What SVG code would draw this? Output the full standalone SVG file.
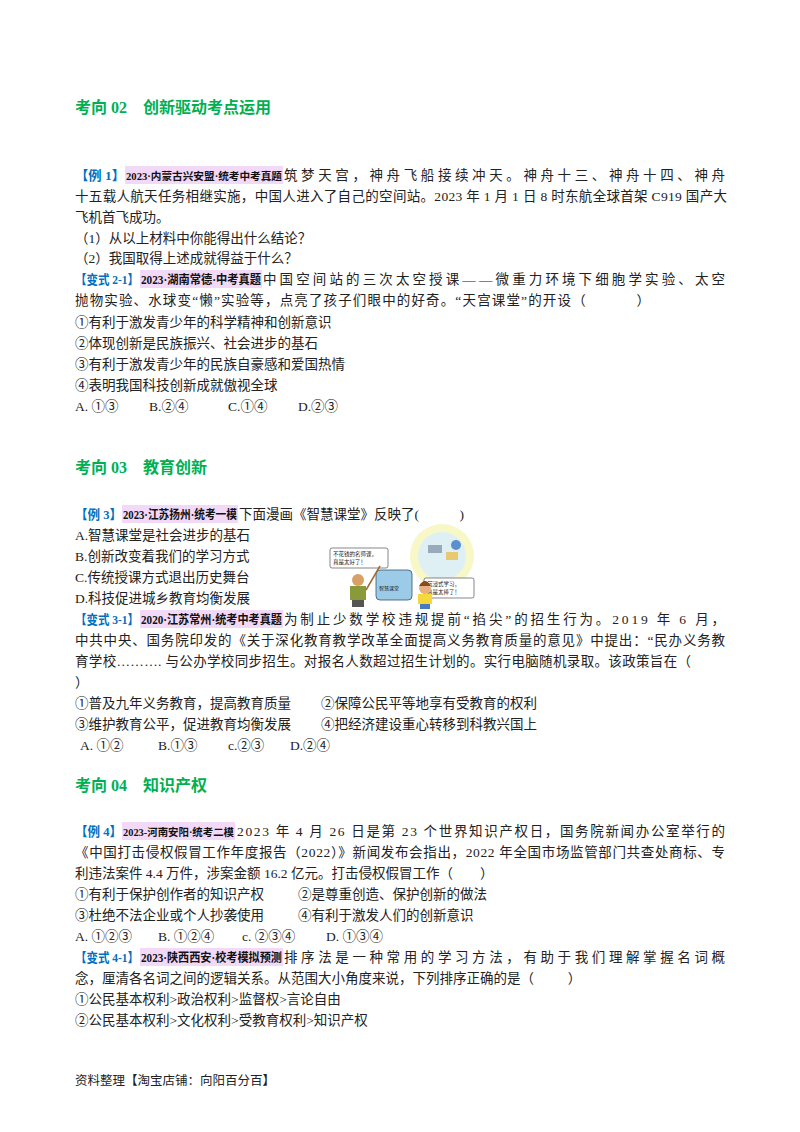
<svg xmlns="http://www.w3.org/2000/svg" width="800" height="1132" viewBox="0 0 800 1132">
<style>
text{font-family:"Liberation Serif","Noto Sans CJK SC",serif;font-size:13.5px;fill:#222;white-space:pre}
.h{font-size:16px;font-weight:bold;fill:#00b050}
.l{fill:#0070c0;font-weight:bold;font-size:13px}
.s{font-weight:bold;fill:#111;font-size:12px}
.pk{fill:#f2d9f7}
</style>
<rect width="800" height="1132" fill="#fff"/>
<g id="sec02">
<text class="h" x="75" y="113">考向 02　创新驱动考点运用</text>
<rect class="pk" x="125" y="166" width="158" height="18"/>
<text class="l" x="75" y="180" textLength="50" lengthAdjust="spacingAndGlyphs">【例 1】</text>
<text class="s" x="126" y="180" textLength="156" lengthAdjust="spacingAndGlyphs" style="font-size:10.5px">2023·内蒙古兴安盟·统考中考真题</text>
<text x="284" y="180" textLength="441" lengthAdjust="spacing">筑梦天宫，神舟飞船接续冲天。神舟十三、神舟十四、神舟</text>
<text x="75" y="201" textLength="652" lengthAdjust="spacing">十五载人航天任务相继实施，中国人进入了自己的空间站。2023 年 1 月 1 日 8 时东航全球首架 C919 国产大</text>
<text x="75" y="222">飞机首飞成功。</text>
<text x="75" y="243">（1）从以上材料中你能得出什么结论？</text>
<text x="75" y="263">（2）我国取得上述成就得益于什么？</text>
<rect class="pk" x="140" y="270" width="122" height="18"/>
<text class="l" x="75" y="284" textLength="64" lengthAdjust="spacingAndGlyphs">【变式 2-1】</text>
<text class="s" x="141" y="284" textLength="120" lengthAdjust="spacingAndGlyphs">2023·湖南常德·中考真题</text>
<text x="263" y="284" textLength="462" lengthAdjust="spacing">中国空间站的三次太空授课——微重力环境下细胞学实验、太空</text>
<text x="75" y="305" textLength="575" lengthAdjust="spacing">抛物实验、水球变“懒”实验等，点亮了孩子们眼中的好奇。“天宫课堂”的开设（           ）</text>
<text x="75" y="327">①有利于激发青少年的科学精神和创新意识</text>
<text x="75" y="348">②体现创新是民族振兴、社会进步的基石</text>
<text x="75" y="369">③有利于激发青少年的民族自豪感和爱国热情</text>
<text x="75" y="390">④表明我国科技创新成就傲视全球</text>
<text x="75" y="411">A. ①③</text><text x="149" y="411">B.②④</text><text x="228" y="411">C.①④</text><text x="298" y="411">D.②③</text>
</g>
<g id="sec03">
<text class="h" x="75" y="473">考向 03　教育创新</text>
<rect class="pk" x="122" y="505" width="116" height="18"/>
<text class="l" x="75" y="519" textLength="47" lengthAdjust="spacingAndGlyphs">【例 3】</text>
<text class="s" x="123" y="519" textLength="114" lengthAdjust="spacingAndGlyphs">2023·江苏扬州·统考一模</text>
<text x="239" y="519">下面漫画《智慧课堂》反映了(            )</text>
<text x="75" y="540">A.智慧课堂是社会进步的基石</text>
<text x="75" y="561">B.创新改变着我们的学习方式</text>
<text x="75" y="582">C.传统授课方式退出历史舞台</text>
<text x="75" y="603">D.科技促进城乡教育均衡发展</text>
<rect class="pk" x="140" y="610" width="143" height="18"/>
<text class="l" x="75" y="624" textLength="64" lengthAdjust="spacingAndGlyphs">【变式 3-1】</text>
<text class="s" x="141" y="624" textLength="141" lengthAdjust="spacingAndGlyphs">2020·江苏常州·统考中考真题</text>
<text x="284" y="624" textLength="441" lengthAdjust="spacing">为制止少数学校违规提前“掐尖”的招生行为。2019 年 6 月，</text>
<text x="75" y="645" textLength="650" lengthAdjust="spacing">中共中央、国务院印发的《关于深化教育教学改革全面提高义务教育质量的意见》中提出：“民办义务教</text>
<text x="75" y="666" textLength="616" lengthAdjust="spacing">育学校………. 与公办学校同步招生。对报名人数超过招生计划的。实行电脑随机录取。该政策旨在（</text>
<text x="75" y="687">）</text>
<text x="75" y="708">①普及九年义务教育，提高教育质量</text><text x="321" y="708">②保障公民平等地享有受教育的权利</text>
<text x="75" y="729">③维护教育公平，促进教育均衡发展</text><text x="321" y="729">④把经济建设重心转移到科教兴国上</text>
<text x="80" y="750">A. ①②</text><text x="158" y="750">B.①③</text><text x="228" y="750">c.②③</text><text x="290" y="750">D.②④</text>
</g>
<g id="cartoon">
<circle cx="442" cy="556" r="32" fill="#f7f7c8"/>
<circle cx="442" cy="556" r="24" fill="#dff0f5"/>
<rect x="428" y="545" width="14" height="8" fill="#9ab"/><rect x="446" y="552" width="12" height="8" fill="#e8c870"/><circle cx="456" cy="545" r="5" fill="#5a8fd0"/>
<rect x="330" y="548" width="58" height="20" rx="2" fill="#fff" stroke="#555" stroke-width="0.7"/>
<text x="333" y="556" style="font-size:5.5px">不花钱的名师课，</text><text x="333" y="564" style="font-size:5.5px">真是太好了！</text>
<rect x="424" y="578" width="50" height="20" rx="2" fill="#fff" stroke="#555" stroke-width="0.7"/>
<text x="427" y="586" style="font-size:5.5px">沉浸式学习，</text><text x="427" y="594" style="font-size:5.5px">真是太棒了！</text>
<rect x="376" y="570" width="36" height="30" rx="4" fill="#9ccbe8" stroke="#357" stroke-width="0.8"/>
<text x="379" y="590" style="font-size:5px">智慧课堂</text>
<circle cx="358" cy="580" r="6" fill="#d9a066"/><rect x="350" y="586" width="16" height="14" fill="#8a9a3a"/><rect x="352" y="600" width="12" height="7" fill="#555"/>
<circle cx="425" cy="588" r="6" fill="#e8b080"/><path d="M419 586 q6 -10 12 0" fill="#8a4a1a"/><rect x="418" y="594" width="14" height="10" fill="#f5d83a"/><rect x="420" y="604" width="10" height="5" fill="#4a7ac0"/>
<line x1="366" y1="590" x2="380" y2="566" stroke="#a06a30" stroke-width="1.5"/>
</g>
<g id="sec04">
<text class="h" x="75" y="791">考向 04　知识产权</text>
<rect class="pk" x="122" y="822" width="113" height="18"/>
<text class="l" x="75" y="836" textLength="47" lengthAdjust="spacingAndGlyphs">【例 4】</text>
<text class="s" x="123" y="836" textLength="111" lengthAdjust="spacingAndGlyphs" style="font-size:10.5px">2023-河南安阳·统考二模</text>
<text x="237" y="836" textLength="488" lengthAdjust="spacing">2023 年 4 月 26 日是第 23 个世界知识产权日，国务院新闻办公室举行的</text>
<text x="75" y="857" textLength="650" lengthAdjust="spacing">《中国打击侵权假冒工作年度报告（2022）》新闻发布会指出，2022 年全国市场监管部门共查处商标、专</text>
<text x="75" y="878">利违法案件 4.4 万件，涉案金额 16.2 亿元。打击侵权假冒工作（        ）</text>
<text x="75" y="899">①有利于保护创作者的知识产权</text><text x="298" y="899">②是尊重创造、保护创新的做法</text>
<text x="75" y="920">③杜绝不法企业或个人抄袭使用</text><text x="298" y="920">④有利于激发人们的创新意识</text>
<text x="75" y="941">A. ①②③</text><text x="158" y="941">B. ①②④</text><text x="242" y="941">c. ②③④</text><text x="326" y="941">D. ①③④</text>
<rect class="pk" x="140" y="948" width="143" height="18"/>
<text class="l" x="75" y="962" textLength="64" lengthAdjust="spacingAndGlyphs">【变式 4-1】</text>
<text class="s" x="141" y="962" textLength="141" lengthAdjust="spacingAndGlyphs">2023·陕西西安·校考模拟预测</text>
<text x="284" y="962" textLength="441" lengthAdjust="spacing">排序法是一种常用的学习方法，有助于我们理解掌握名词概</text>
<text x="75" y="983">念，厘清各名词之间的逻辑关系。从范围大小角度来说，下列排序正确的是（          ）</text>
<text x="75" y="1004">①公民基本权利&gt;政治权利&gt;监督权&gt;言论自由</text>
<text x="75" y="1025">②公民基本权利&gt;文化权利&gt;受教育权利&gt;知识产权</text>
</g>
<text x="75" y="1085" style="font-size:12.5px">资料整理【淘宝店铺：向阳百分百】</text>
</svg>
